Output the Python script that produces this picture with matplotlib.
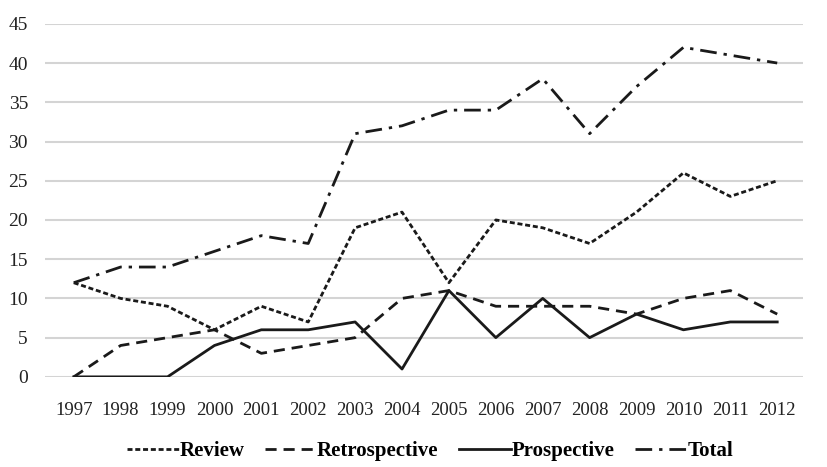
import matplotlib
matplotlib.use("Agg")
import matplotlib.pyplot as plt

years = ["1997", "1998", "1999", "2000", "2001", "2002", "2003", "2004",
         "2005", "2006", "2007", "2008", "2009", "2010", "2011", "2012"]
review = [12, 10, 9, 6, 9, 7, 19, 21, 12, 20, 19, 17, 21, 26, 23, 25]
retrospective = [0, 4, 5, 6, 3, 4, 5, 10, 11, 9, 9, 9, 8, 10, 11, 8]
prospective = [0, 0, 0, 4, 6, 6, 7, 1, 11, 5, 10, 5, 8, 6, 7, 7]
total = [12, 14, 14, 16, 18, 17, 31, 32, 34, 34, 38, 31, 37, 42, 41, 40]
yticks = [0, 5, 10, 15, 20, 25, 30, 35, 40, 45]

plt.rcParams['font.family'] = ['Liberation Serif', 'DejaVu Serif']

fig = plt.figure(figsize=(8.27, 4.67), dpi=100)
ax = fig.add_axes([0.054, 0.193, 0.917, 0.756])
x = list(range(len(years)))
col = '#1a1a1a'
ax.plot(x, review, color=col, lw=2, ls=(0, (1.8, 1.0)), label='Review')
ax.plot(x, retrospective, color=col, lw=2, ls=(0, (4.0, 2.5)), label='Retrospective')
ax.plot(x, prospective, color=col, lw=2, ls='-', label='Prospective')
ax.plot(x, total, color=col, lw=2, ls=(0, (6, 2.5, 1.2, 2.5)), label='Total')

ax.set_xlim(-0.62, 15.55)
ax.set_ylim(0, 45)
ax.set_yticks(yticks)
ax.set_yticklabels([str(v) for v in yticks], fontsize=14, color='#222222')
ax.set_xticks(x)
ax.set_xticklabels(years, fontsize=13.5, color='#222222')
ax.tick_params(axis='both', length=0)
ax.tick_params(axis='x', pad=18)
ax.tick_params(axis='y', pad=12)
ax.grid(axis='y', color='#d4d4d4', lw=1.5)
ax.set_axisbelow(True)
for s in ax.spines.values():
    s.set_visible(False)

leg = fig.legend(loc='lower center', bbox_to_anchor=(0.52, -0.028), ncol=4, frameon=False,
                 prop={'weight': 'bold', 'size': 15}, handlelength=2.5, handletextpad=0.0,
                 columnspacing=1.0)
fig.savefig('out.png', dpi=100)
